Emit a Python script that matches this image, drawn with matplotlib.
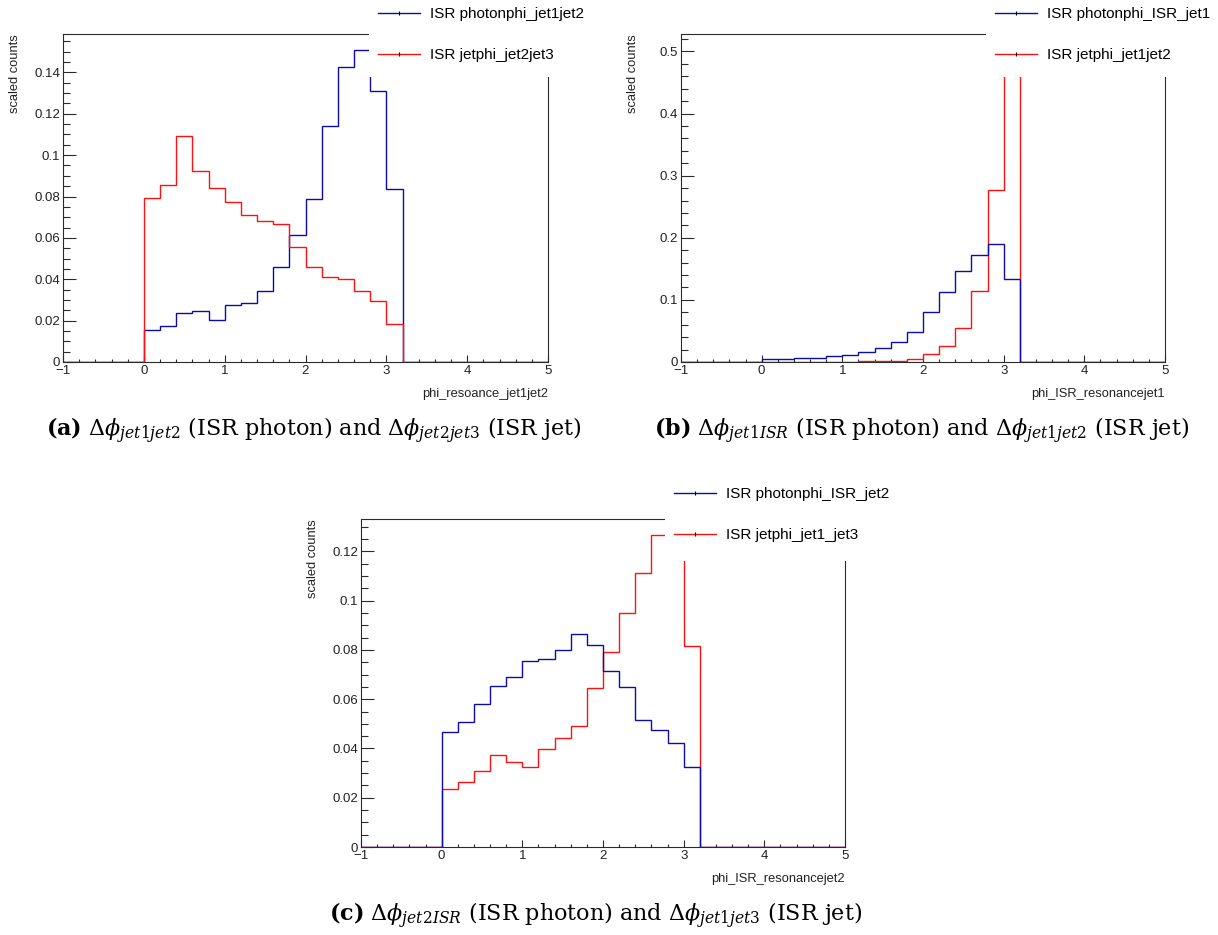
import numpy as np
import matplotlib
matplotlib.use('Agg')
import matplotlib.pyplot as plt
from matplotlib.patches import Rectangle
from matplotlib.lines import Line2D
from matplotlib.ticker import MultipleLocator, FuncFormatter

plt.rcParams['font.family'] = ['Liberation Sans', 'DejaVu Sans']
plt.rcParams['mathtext.fontset'] = 'dejavuserif'

W, H = 1218, 935

# 30 bins of width 0.2 from -1 to 5
bin_edges = np.round(np.linspace(-1, 5, 31), 2)

# panel (a)
a_photon = [0, 0, 0, 0, 0,
            0.0156, 0.0174, 0.0238, 0.0245, 0.0203, 0.0275, 0.0284, 0.0343,
            0.0459, 0.0615, 0.0788, 0.1141, 0.1424, 0.1510, 0.1308, 0.0836,
            0, 0, 0, 0, 0, 0, 0, 0, 0]
a_jet = [0, 0, 0, 0, 0,
         0.0791, 0.0857, 0.1094, 0.0925, 0.0843, 0.0773, 0.0709, 0.0681,
         0.0669, 0.0556, 0.0461, 0.0412, 0.0403, 0.0343, 0.0296, 0.0185,
         0, 0, 0, 0, 0, 0, 0, 0, 0]

# panel (b)
b_photon = [0, 0, 0, 0, 0,
            0.0043, 0.0048, 0.0064, 0.0070, 0.0096, 0.0118, 0.0155, 0.0230,
            0.0327, 0.0482, 0.0804, 0.1125, 0.1463, 0.1720, 0.1902, 0.1340,
            0, 0, 0, 0, 0, 0, 0, 0, 0]
b_jet = [0, 0, 0, 0, 0,
         0.0003, 0.0003, 0.0004, 0.0005, 0.0006, 0.0008, 0.0010, 0.0012,
         0.0018, 0.0054, 0.0123, 0.0257, 0.0552, 0.1136, 0.2776, 0.5030,
         0, 0, 0, 0, 0, 0, 0, 0, 0]

# panel (c)
c_photon = [0, 0, 0, 0, 0,
            0.0466, 0.0507, 0.0581, 0.0655, 0.0689, 0.0754, 0.0764, 0.0801,
            0.0864, 0.0819, 0.0715, 0.0651, 0.0514, 0.0474, 0.0424, 0.0323,
            0, 0, 0, 0, 0, 0, 0, 0, 0]
c_jet = [0, 0, 0, 0, 0,
         0.0234, 0.0265, 0.0308, 0.0372, 0.0346, 0.0323, 0.0399, 0.0442,
         0.0492, 0.0645, 0.0793, 0.0950, 0.1111, 0.1268, 0.1230, 0.0815,
         0, 0, 0, 0, 0, 0, 0, 0, 0]

panels = [
    dict(photon=a_photon, jet=a_jet,
         photon_label='ISR photonphi_jet1jet2', jet_label='ISR jetphi_jet2jet3',
         xlabel='phi_resoance_jet1jet2', major=0.02, minor=0.005,
         box=(63, 34, 548, 362), legend=(369, 0, 605, 77), red_on_top=True,
         caption=r'$\mathbf{(a)}$ $\Delta\phi_{jet1jet2}$ (ISR photon) and $\Delta\phi_{jet2jet3}$ (ISR jet)',
         cap_xy=(314, 431)),
    dict(photon=b_photon, jet=b_jet,
         photon_label='ISR photonphi_ISR_jet1', jet_label='ISR jetphi_jet1jet2',
         xlabel='phi_ISR_resonancejet1', major=0.1, minor=0.02,
         box=(681, 34, 1165, 362), legend=(986, 0, 1218, 77), red_on_top=False,
         caption=r'$\mathbf{(b)}$ $\Delta\phi_{jet1ISR}$ (ISR photon) and $\Delta\phi_{jet1jet2}$ (ISR jet)',
         cap_xy=(922, 431)),
    dict(photon=c_photon, jet=c_jet,
         photon_label='ISR photonphi_ISR_jet2', jet_label='ISR jetphi_jet1_jet3',
         xlabel='phi_ISR_resonancejet2', major=0.02, minor=0.005,
         box=(361, 519, 845, 847), legend=(665, 480, 900, 561), red_on_top=False,
         caption=r'$\mathbf{(c)}$ $\Delta\phi_{jet2ISR}$ (ISR photon) and $\Delta\phi_{jet1jet3}$ (ISR jet)',
         cap_xy=(596, 916)),
]

BLUE = '#0c0ca6'
RED = '#ff1010'
FRAME = '#2a2a2a'


def root_fmt(v, pos):
    return ('%g' % round(v, 6)).replace('-', '\u2212')


fig = plt.figure(figsize=(W / 100, H / 100), dpi=100)

for p in panels:
    x0, y0, x1, y1 = p['box']
    ax = fig.add_axes([x0 / W, 1 - y1 / H, (x1 - x0) / W, (y1 - y0) / H])

    zb, zr = (2, 3) if p['red_on_top'] else (3, 2)
    ax.stairs(p['photon'], bin_edges, color=BLUE, lw=1.0, zorder=zb)
    ax.stairs(p['jet'], bin_edges, color=RED, lw=1.0, zorder=zr)

    ymax = 1.05 * max(max(p['photon']), max(p['jet']))
    ax.set_xlim(-1, 5)
    ax.set_ylim(0, ymax)

    ax.xaxis.set_major_locator(MultipleLocator(1))
    ax.xaxis.set_minor_locator(MultipleLocator(0.2))
    ax.yaxis.set_major_locator(MultipleLocator(p['major']))
    ax.yaxis.set_minor_locator(MultipleLocator(p['minor']))
    ax.yaxis.set_major_formatter(FuncFormatter(root_fmt))
    ax.xaxis.set_major_formatter(FuncFormatter(root_fmt))

    ax.tick_params(which='both', direction='in', top=False, right=False,
                   labelsize=9.5, colors=FRAME, labelcolor='#222222', width=0.8)
    ax.tick_params(axis='x', which='major', length=5, pad=2)
    ax.tick_params(axis='x', which='minor', length=2.5)
    ax.tick_params(axis='y', which='major', length=9.5, pad=2)
    ax.tick_params(axis='y', which='minor', length=5)
    for s in ax.spines.values():
        s.set_color(FRAME)
        s.set_linewidth(0.8)

    ax.set_ylabel('scaled counts', loc='top', fontsize=9.3, color='#222222')
    ax.yaxis.set_label_coords(-42 / (x1 - x0), 1.0)
    ax.set_xlabel(p['xlabel'], loc='right', fontsize=9.3, color='#222222')
    ax.xaxis.set_label_coords(1.0, -26 / (y1 - y0))

    # white legend pad covering the frame corner, as in the ROOT canvas
    lx0, ly0, lx1, ly1 = p['legend']
    fig.add_artist(Rectangle((lx0 / W, 1 - ly1 / H), (lx1 - lx0) / W, (ly1 - ly0) / H,
                             transform=fig.transFigure, facecolor='white',
                             edgecolor='none', zorder=3))
    handles = [Line2D([], [], color=BLUE, lw=1.0, marker='|', markersize=2.5,
                      markeredgecolor='k', markeredgewidth=0.8),
               Line2D([], [], color=RED, lw=1.0, marker='|', markersize=2.5,
                      markeredgecolor='k', markeredgewidth=0.8)]
    fig.legend(handles, [p['photon_label'], p['jet_label']], loc='upper left',
               bbox_to_anchor=((lx0 + 9) / W, 1 - (ly0 + 7) / H),
               bbox_transform=fig.transFigure, frameon=False, fontsize=11,
               borderpad=0, borderaxespad=0, handlelength=2.75,
               handletextpad=0.65, labelspacing=1.8, numpoints=1)

    fig.text(p['cap_xy'][0] / W, 1 - p['cap_xy'][1] / H, p['caption'],
             ha='center', va='center', fontsize=16, family='DejaVu Serif')

fig.savefig('out.png', dpi=100)
